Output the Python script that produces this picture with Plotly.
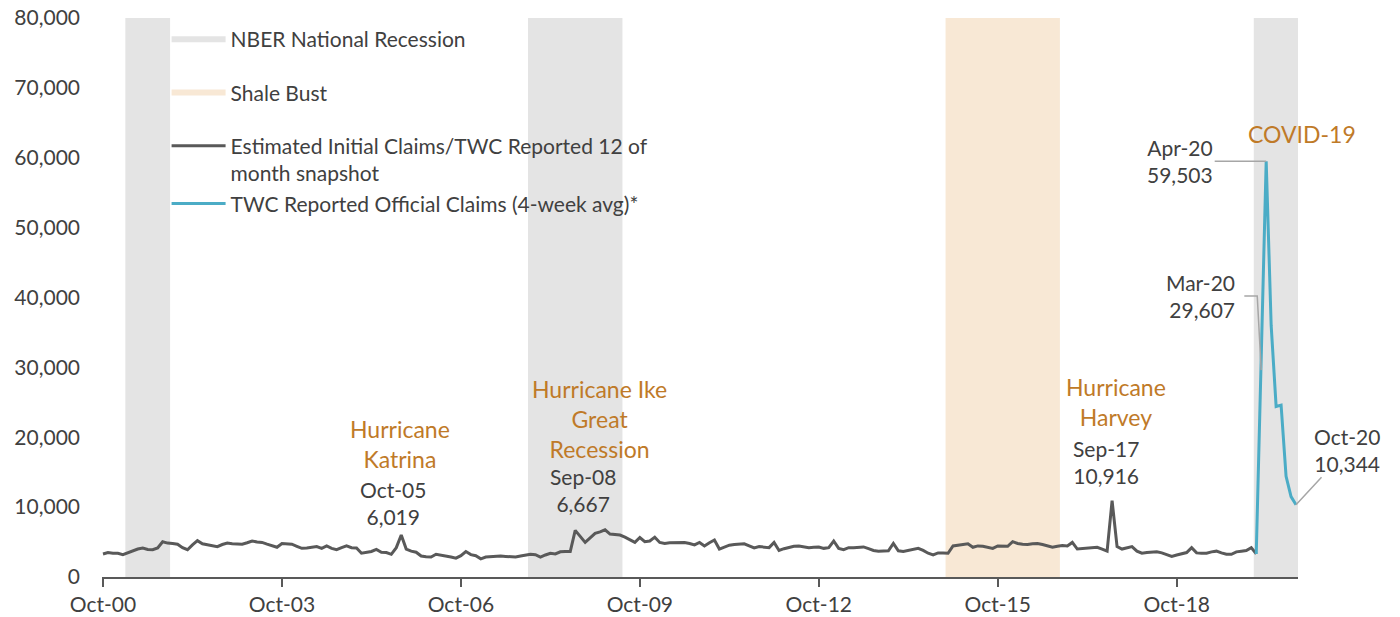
import pandas as pd
import plotly.graph_objects as go

# ---------------- data ----------------
start_month = "2000-10"

# Estimated Initial Claims / TWC reported 12-of-month snapshot, monthly Oct-00 .. Feb-20
est_claims = [
    3300, 3500, 3400, 3400, 3200, 3500, 3750, 4000, 4150, 3950, 3900, 4150,   # Oct-00..Sep-01
    5050, 4850, 4800, 4700, 4200, 3900, 4600, 5200, 4750, 4600, 4450, 4350,   # Oct-01..Sep-02
    4650, 4850, 4750, 4700, 4700, 4900, 5150, 5000, 4950, 4700, 4450, 4250,   # Oct-02..Sep-03
    4800, 4800, 4700, 4400, 4100, 4150, 4250, 4350, 4100, 4450, 4100, 3900,   # Oct-03..Sep-04
    4200, 4450, 4200, 4150, 3400, 3550, 3650, 3950, 3550, 3500, 3250, 4200,   # Oct-04..Sep-05
    6019, 4000, 3700, 3550, 3000, 2900, 2850, 3250, 3150, 3050, 2850, 2700,   # Oct-05..Sep-06
    3050, 3650, 3200, 3050, 2600, 2850, 2900, 3050, 3000, 2950, 2900, 2850,   # Oct-06..Sep-07
    3000, 3150, 3250, 3200, 2850, 3150, 3400, 3300, 3600, 3650, 3650, 6667,   # Oct-07..Sep-08
    5800, 4950, 5600, 6250, 6450, 6750, 6150, 6050, 6000, 5700, 5300, 4950,   # Oct-08..Sep-09
    5650, 5050, 5150, 5700, 4950, 4800, 4900, 4900, 4950, 4950, 4800, 4600,   # Oct-09..Sep-10
    4950, 4450, 4900, 5300, 4000, 4300, 4550, 4650, 4750, 4750, 4450, 4150,   # Oct-10..Sep-11
    4350, 4250, 4200, 4950, 3800, 4050, 4250, 4400, 4450, 4350, 4200, 4250,   # Oct-11..Sep-12
    4300, 4100, 4200, 5150, 4100, 3900, 4200, 4200, 4200, 4300, 4050, 3800,   # Oct-12..Sep-13
    3700, 3750, 3750, 4800, 3750, 3650, 3800, 3950, 4100, 3800, 3400, 3150,   # Oct-13..Sep-14
    3450, 3450, 3400, 4450, 4550, 4600, 4750, 4250, 4450, 4400, 4300, 4100,   # Oct-14..Sep-15
    4450, 4400, 4400, 5050, 4800, 4700, 4650, 4750, 4800, 4650, 4400, 4250,   # Oct-15..Sep-16
    4400, 4500, 4450, 4950, 4000, 4050, 4050, 4150, 4250, 4000, 3700, 10916,  # Oct-16..Sep-17
    4350, 4000, 4150, 4350, 3700, 3400, 3500, 3600, 3600, 3450, 3200, 2950,   # Oct-17..Sep-18
    3150, 3350, 3500, 4200, 3450, 3400, 3400, 3600, 3700, 3450, 3250, 3250,   # Oct-18..Sep-19
    3600, 3700, 3800, 4200, 3300,                                             # Oct-19..Feb-20
]

# TWC reported official claims (4-week avg), Feb-20 .. Oct-20
twc_months = ["2020-02", "2020-03", "2020-04", "2020-05", "2020-06",
              "2020-07", "2020-08", "2020-09", "2020-10"]
twc_claims = [3300, 29607, 59503, 36000, 24400, 24600, 14400, 11500, 10344]

nber_periods = [("2001-03", "2001-11"), ("2007-12", "2009-06"), ("2020-02", "2020-10")]
shale_periods = [("2014-12", "2016-10")]

x_tick_labels = ["Oct-00", "Oct-03", "Oct-06", "Oct-09", "Oct-12", "Oct-15", "Oct-18"]
y_tick_values = [0, 10000, 20000, 30000, 40000, 50000, 60000, 70000, 80000]

# event callouts: (month, title)
event_titles = [("2005-10", "Hurricane<br>Katrina"),
                ("2008-09", "Hurricane Ike<br>Great<br>Recession"),
                ("2017-09", "Hurricane<br>Harvey"),
                ("2020-04", "COVID-19")]
# value callouts: month labels
value_callouts = ["2005-10", "2008-09", "2017-09", "2020-03", "2020-04", "2020-10"]

# ---------------- helpers ----------------
p0 = pd.Period(start_month, "M")


def idx(p):
    return (pd.Period(p, "M") - p0).n


def label(p):
    return pd.Period(p, "M").strftime("%b-%y")


est_x = list(range(len(est_claims)))
twc_x = [idx(m) for m in twc_months]

values = {}
for i, v in enumerate(est_claims):
    values[(p0 + i).strftime("%Y-%m")] = v
for m, v in zip(twc_months, twc_claims):
    values[m] = v

YMAX = y_tick_values[-1]


def shade_poly(periods):
    xs, ys = [], []
    for a, b in periods:
        x0, x1 = idx(a) - 0.5, idx(b) + 0.5
        xs += [x0, x0, x1, x1, x0, None]
        ys += [0, YMAX, YMAX, 0, 0, None]
    return xs, ys


FONT = "Lato"
GRAY_TXT = "#404040"
ORANGE = "#BF7A28"
LEADER = "#A6A6A6"

fig = go.Figure()

nx, ny = shade_poly(nber_periods)
fig.add_trace(go.Scatter(x=nx, y=ny, mode="none", fill="toself", fillcolor="#E4E4E4",
                         name="NBER National Recession", legendgroup="g1", hoverinfo="skip"))
sx, sy = shade_poly(shale_periods)
fig.add_trace(go.Scatter(x=sx, y=sy, mode="none", fill="toself", fillcolor="#F8E8D5",
                         name="Shale Bust", legendgroup="g2", hoverinfo="skip"))
fig.add_trace(go.Scatter(x=est_x, y=est_claims, mode="lines",
                         line=dict(color="#595959", width=3),
                         name="Estimated Initial Claims/TWC Reported 12 of<br>month snapshot",
                         legendgroup="g3"))
fig.add_trace(go.Scatter(x=twc_x, y=twc_claims, mode="lines",
                         line=dict(color="#4BACC6", width=3),
                         name="TWC Reported Official Claims (4-week avg)*",
                         legendgroup="g3"))

annotations = []
# event titles (orange)
title_shift = {"2005-10": (-1, 91), "2008-09": (24, 111), "2017-09": (4, 99), "2020-04": (36, 27)}
for m, t in event_titles:
    dx, dy = title_shift[m]
    annotations.append(dict(x=idx(m), y=values[m], xref="x", yref="y", text=t,
                            showarrow=False, xshift=dx, yshift=dy, yanchor="middle",
                            xanchor="center", align="center",
                            font=dict(family=FONT, size=23, color=ORANGE)))

# value callouts (gray)
plain_shift = {"2005-10": (-8, 32), "2008-09": (8, 40), "2017-09": (-6, 39), "2020-03": (-61, 74)}
for m in value_callouts:
    txt = f"{label(m)}<br>{values[m]:,}"
    if m in plain_shift:
        dx, dy = plain_shift[m]
        annotations.append(dict(x=idx(m), y=values[m], xref="x", yref="y", text=txt,
                                showarrow=False, xshift=dx, yshift=dy, yanchor="middle",
                                xanchor="center", align="center" if m != "2020-03" else "right",
                                font=dict(family=FONT, size=21, color=GRAY_TXT)))
    elif m == "2020-04":
        annotations.append(dict(x=idx(m), y=values[m], xref="x", yref="y", text=txt,
                                showarrow=True, arrowhead=0, arrowwidth=1.5, arrowcolor=LEADER,
                                ax=-86, ay=0, align="right",
                                font=dict(family=FONT, size=21, color=GRAY_TXT)))
    else:
        annotations.append(dict(x=idx(m), y=values[m], xref="x", yref="y", text=txt,
                                showarrow=True, arrowhead=0, arrowwidth=1.5, arrowcolor=LEADER,
                                ax=51, ay=-55, align="center",
                                font=dict(family=FONT, size=21, color=GRAY_TXT)))

# elbow leader for Mar-20 callout
mx = idx("2020-03")
my = values["2020-03"]
fig.add_shape(type="path", xref="x", yref="y",
              path=f"M {mx - 3.4},{my + 10600} L {mx - 0.8},{my + 10600} L {mx},{my}",
              line=dict(color=LEADER, width=1.5))

tick_idx = [idx(pd.to_datetime(t, format="%b-%y").strftime("%Y-%m")) for t in x_tick_labels]

fig.update_layout(
    width=1400, height=617,
    margin=dict(l=102, r=102, t=18, b=40, autoexpand=False),
    paper_bgcolor="white", plot_bgcolor="white",
    font=dict(family=FONT, size=21, color=GRAY_TXT),
    showlegend=True,
    legend=dict(x=0.054, y=0.998, xanchor="left", yanchor="top",
                bgcolor="rgba(0,0,0,0)", borderwidth=0,
                font=dict(family=FONT, size=21, color=GRAY_TXT),
                traceorder="grouped", tracegroupgap=23, itemwidth=54, valign="top"),
    annotations=annotations,
    xaxis=dict(range=[-0.2, 240.4], tickmode="array", tickvals=tick_idx, ticktext=x_tick_labels,
               showgrid=False, zeroline=False, showline=True, linecolor="#595959", linewidth=2,
               ticks="outside", ticklen=8, tickwidth=2, tickcolor="#595959", automargin=False,
               tickfont=dict(family=FONT, size=21, color=GRAY_TXT)),
    yaxis=dict(range=[0, YMAX], tickmode="array", tickvals=y_tick_values, tickformat=",d",
               showgrid=False, zeroline=False, showline=False, ticks="", automargin=False,
               ticklabelstandoff=21,
               tickfont=dict(family=FONT, size=21, color=GRAY_TXT)),
)

fig.write_html("out.html", config={"displayModeBar": False},
               post_script="document.body.style.margin='0px';document.body.style.overflow='hidden';")
